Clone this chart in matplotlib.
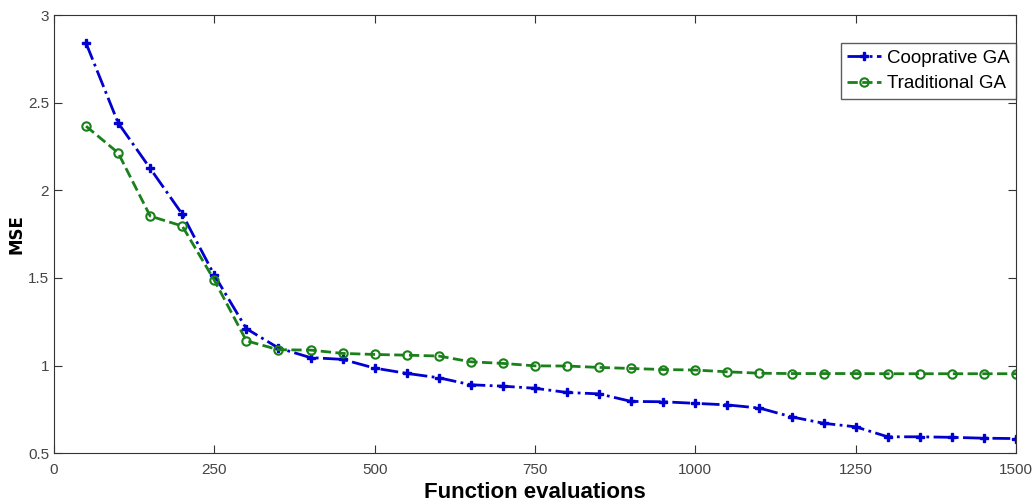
import matplotlib
matplotlib.use('Agg')
import matplotlib.pyplot as plt

# Evaluaciones de la función (eje x)
evaluations = list(range(50, 1501, 50))

# MSE de cada algoritmo
cooperative_ga = [2.84, 2.385, 2.125, 1.864, 1.516, 1.21, 1.10, 1.045, 1.035, 0.985,
                  0.955, 0.93, 0.89, 0.882, 0.87, 0.846, 0.838, 0.795, 0.793, 0.784,
                  0.775, 0.757, 0.707, 0.67, 0.65, 0.593, 0.593, 0.59, 0.585, 0.583]
traditional_ga = [2.366, 2.214, 1.853, 1.796, 1.487, 1.141, 1.09, 1.088, 1.069, 1.063,
                  1.059, 1.054, 1.021, 1.012, 0.998, 0.997, 0.989, 0.983, 0.977, 0.974,
                  0.964, 0.956, 0.954, 0.954, 0.954, 0.953, 0.953, 0.953, 0.953, 0.953]

x_ticks = [0, 250, 500, 750, 1000, 1250, 1500]
y_ticks = [0.5, 1, 1.5, 2, 2.5, 3]
y_tick_labels = ['0.5', '1', '1.5', '2', '2.5', '3']

plt.rcParams['font.family'] = ['Liberation Sans', 'DejaVu Sans']

fig = plt.figure(figsize=(10.34, 5.04), dpi=100)
ax = fig.add_axes([0.0522, 0.101, 0.9304, 0.869])

ax.plot(evaluations, cooperative_ga, linestyle='-.', color='#0000d0', linewidth=2,
        marker='P', markersize=6, label='Coopr' + 'ative GA')
ax.plot(evaluations, traditional_ga, linestyle='--', color='#1a801a', linewidth=2,
        marker='o', markersize=6, markerfacecolor='none', markeredgewidth=1.5,
        label='Traditional GA')

ax.set_xlim(0, 1500)
ax.set_ylim(0.5, 3)
ax.set_xticks(x_ticks)
ax.set_yticks(y_ticks)
ax.set_yticklabels(y_tick_labels)
ax.tick_params(direction='in', top=True, right=True, length=6, colors='#333333',
               labelsize=11, labelcolor='#444444')
ax.tick_params(axis='x', pad=7)
for spine in ax.spines.values():
    spine.set_color('#333333')

ax.set_xlabel('Function evaluations', fontsize=16, fontweight='bold', labelpad=4)
ax.set_ylabel('MSE', fontsize=12, fontweight='bold', family=['DejaVu Sans'], labelpad=2)

leg = ax.legend(loc='upper right', bbox_to_anchor=(1.0, 0.936), fontsize=13.5,
                frameon=True, fancybox=False, handlelength=1.8, handletextpad=0.3,
                borderpad=0.35, labelspacing=0.45, borderaxespad=0)
leg.get_frame().set_edgecolor('#333333')
leg.get_frame().set_linewidth(1.0)

plt.savefig('out.png', dpi=100)
